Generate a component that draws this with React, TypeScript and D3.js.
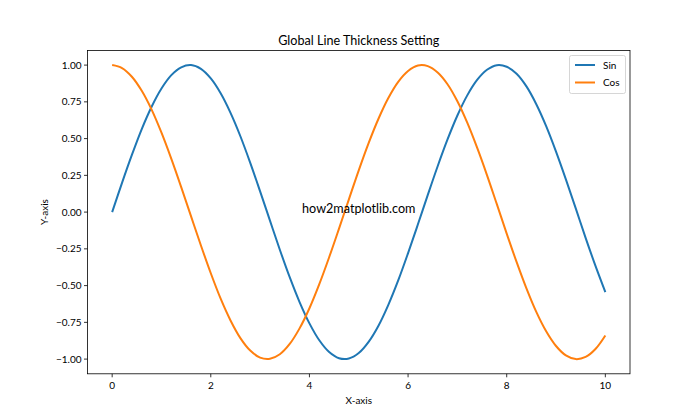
import React from "react";
import * as d3 from "d3";

const xValues = [0,0.2,0.4,0.6,0.8,1.0,1.2,1.4,1.6,1.8,2.0,2.2,2.4,2.6,2.8,3.0,3.2,3.4,3.6,3.8,4.0,4.2,4.4,4.6,4.8,5.0,5.2,5.4,5.6,5.8,6.0,6.2,6.4,6.6,6.8,7.0,7.2,7.4,7.6,7.8,8.0,8.2,8.4,8.6,8.8,9.0,9.2,9.4,9.6,9.8,10.0];
const sinValues = [0,0.199,0.389,0.565,0.717,0.841,0.932,0.985,1.0,0.974,0.909,0.808,0.675,0.516,0.335,0.141,-0.058,-0.256,-0.443,-0.612,-0.757,-0.872,-0.952,-0.994,-0.996,-0.959,-0.883,-0.773,-0.631,-0.465,-0.279,-0.083,0.117,0.312,0.494,0.657,0.794,0.899,0.968,0.999,0.989,0.941,0.855,0.734,0.585,0.412,0.223,0.025,-0.175,-0.366,-0.544];
const cosValues = [1,0.980,0.921,0.825,0.697,0.540,0.362,0.170,-0.029,-0.227,-0.416,-0.589,-0.737,-0.857,-0.942,-0.990,-0.998,-0.967,-0.897,-0.791,-0.654,-0.490,-0.307,-0.112,0.087,0.284,0.469,0.635,0.776,0.886,0.960,0.997,0.993,0.950,0.870,0.754,0.608,0.438,0.252,0.054,-0.146,-0.339,-0.519,-0.679,-0.811,-0.911,-0.975,-1.0,-0.985,-0.931,-0.839];
const xTicks = [0,2,4,6,8,10];
const yTicks = [-1,-0.75,-0.5,-0.25,0,0.25,0.5,0.75,1];
const seriesNames = ["Sin","Cos"];
const seriesColors = ["#1f77b4","#ff7f0e"];

const W = 700, H = 420;
const L = 87.5, R = 630, T = 50.4, B = 373.8;
const FONT = "Lato, 'Noto Sans', sans-serif";

export default function App() {
  const x = d3.scaleLinear().domain([-0.5, 10.5]).range([L, R]);
  const y = d3.scaleLinear().domain([-1.1, 1.1]).range([B, T]);
  const line = d3.line<[number, number]>().x(d => x(d[0])).y(d => y(d[1])).curve(d3.curveCatmullRom);
  const series = [sinValues, cosValues];
  return (
    <svg width={W} height={H} style={{ position: "absolute", left: 0, top: 0, background: "#fff" }} fontFamily={FONT}>
      <rect x={0} y={0} width={W} height={H} fill="#fff" />
      {series.map((vals, i) => (
        <path key={i} d={line(xValues.map((xv, j) => [xv, vals[j]]) as [number, number][]) || ""} fill="none" stroke={seriesColors[i]} strokeWidth={2} strokeLinejoin="round" strokeLinecap="butt" />
      ))}
      <rect x={L} y={T} width={R - L} height={B - T} fill="none" stroke="#000" strokeWidth={0.8} />
      {xTicks.map(t => (
        <g key={t}>
          <line x1={x(t)} x2={x(t)} y1={B} y2={B + 3.5} stroke="#000" strokeWidth={0.8} />
          <text x={x(t)} y={B + 15} fontSize={10} textAnchor="middle" fill="#000">{d3.format("d")(t)}</text>
        </g>
      ))}
      {yTicks.map(t => (
        <g key={t}>
          <line x1={L - 3.5} x2={L} y1={y(t)} y2={y(t)} stroke="#000" strokeWidth={0.8} />
          <text x={L - 6} y={y(t)} dy="0.35em" fontSize={10} textAnchor="end" fill="#000">{d3.format(".2f")(t)}</text>
        </g>
      ))}
      <text x={(L + R) / 2} y={404} fontSize={10} textAnchor="middle">X-axis</text>
      <text transform={`translate(48,${(T + B) / 2}) rotate(-90)`} fontSize={10} textAnchor="middle">Y-axis</text>
      <text x={(L + R) / 2} y={45} fontSize={12.6} textAnchor="middle">Global Line Thickness Setting</text>
      <text x={x(5)} y={y(0)} dy="0.05em" fontSize={12.6} textAnchor="middle">how2matplotlib.com</text>
      <g>
        <rect x={569.5} y={55.5} width={56} height={38} rx={2} fill="#fff" fillOpacity={0.8} stroke="#ccc" strokeWidth={0.8} />
        {seriesNames.map((n, i) => (
          <g key={n}>
            <line x1={575} x2={595} y1={65 + i * 17.5} y2={65 + i * 17.5} stroke={seriesColors[i]} strokeWidth={2} />
            <text x={603} y={65 + i * 17.5} dy="0.35em" fontSize={10}>{n}</text>
          </g>
        ))}
      </g>
    </svg>
  );
}
